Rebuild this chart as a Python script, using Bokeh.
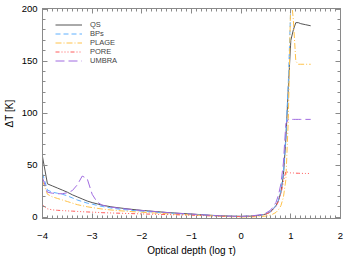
from bokeh.plotting import figure
from bokeh.models import SingleIntervalTicker, LinearAxis, Range1d, Legend, LegendItem
from bokeh.embed import file_html
from bokeh.resources import INLINE

# optical depth (log tau)
log_tau = [-4.0, -3.9, -3.8, -3.7, -3.6, -3.5, -3.4, -3.3, -3.2, -3.1, -3.0,
           -2.9, -2.8, -2.6, -2.4, -2.2, -2.0, -1.75, -1.5, -1.25, -1.0,
           -0.75, -0.5, -0.25, 0.0, 0.2, 0.4, 0.5, 0.6, 0.7, 0.75, 0.8,
           0.85, 0.9, 0.95, 1.0, 1.05, 1.1, 1.15, 1.2, 1.3, 1.4]

qs = [58, 32, 30, 28, 26, 24, 21.5, 19.5, 17.5, 15.5, 14,
      12.8, 11.5, 9.8, 8.6, 7.5, 6.5, 5.5, 4.5, 3.7, 3.0,
      2.2, 1.5, 1.0, 0.8, 1.0, 2.0, 3.0, 5.5, 11, 16, 24,
      40, 75, 125, 170, 180, 187, 187, 186, 185, 184]

bps = [42, 26, 24, 23, 22, 20.5, 18.5, 16.5, 15, 13.5, 12.5,
       11.3, 10.3, 8.6, 7.4, 6.5, 5.7, 4.8, 4.0, 3.3, 2.7,
       2.0, 1.4, 0.9, 0.7, 1.0, 2.0, 3.0, 5.5, 11, 16, 25,
       42, 78, 130, 205, 250, 265, 262, 258, 255, 253]

plage = [35, 22, 19.5, 18, 16.5, 15, 13.5, 12, 11, 10, 9.2,
         8.5, 7.8, 6.8, 6.0, 5.3, 4.7, 4.0, 3.3, 2.7, 2.2,
         1.6, 1.0, 0.5, 0.2, 0.2, 0.6, 1.0, 2.0, 4.5, 7, 11,
         19, 36, 95, 215, 190, 150, 147, 147, 147, 147]

pore = [11.5, 8, 7, 6.6, 6.3, 6.0, 5.8, 5.5, 5.2, 5.0, 4.8,
        4.6, 4.3, 4.0, 3.7, 3.4, 3.1, 2.8, 2.5, 2.2, 1.9,
        1.5, 1.1, 0.7, 0.5, 0.8, 1.8, 2.8, 5, 10, 15, 22,
        34, 44, 43, 42.5, 42.5, 42.3, 42.2, 42.1, 42, 42]

umbra = [38, 24, 23, 22.5, 22.5, 23.5, 25.5, 31, 39.5, 37, 22,
         14.5, 11.5, 9.5, 8.3, 7.3, 6.4, 5.4, 4.4, 3.6, 2.9,
         2.1, 1.4, 0.9, 0.7, 1.1, 2.4, 4, 7, 14, 21, 32,
         52, 90, 94, 94, 94, 94, 94, 94, 94, 94]

series_names = ["QS", "BPs", "PLAGE", "PORE", "UMBRA"]
series_values = [qs, bps, plage, pore, umbra]
colors = ["#555555", "#5fb0ff", "#ffc24a", "#ff5c5c", "#a06be0"]
dashes = ["solid", "5 3", "6 2 1 2", "4 2 1 2 1 2 1 2", "9 4"]

FONT = "Liberation Sans"

p = figure(frame_width=298, frame_height=210, output_backend="svg", toolbar_location=None,
           x_range=Range1d(-4, 2), y_range=Range1d(-1.3, 200.6),
           min_border_left=42, min_border_right=18, min_border_top=8,
           min_border_bottom=30, x_axis_type=None, y_axis_type=None)
p.xgrid.visible = False
p.ygrid.visible = False
p.outline_line_color = "#8a8a8a"
p.background_fill_color = "white"
p.border_fill_color = "white"

AX_COLOR = "#8a8a8a"

def style(ax, labels=True):
    ax.axis_line_color = AX_COLOR
    ax.major_tick_line_color = AX_COLOR
    ax.minor_tick_line_color = AX_COLOR
    ax.major_tick_in = 5
    ax.major_tick_out = 0
    ax.minor_tick_in = 3
    ax.minor_tick_out = 0
    ax.major_label_text_font = FONT
    ax.major_label_text_font_size = "9.5px"
    ax.major_label_text_color = "black"
    ax.axis_label_text_font = FONT
    ax.axis_label_text_font_size = "10px"
    ax.axis_label_text_font_style = "normal"
    ax.axis_label_text_color = "black"
    if not labels:
        ax.major_label_text_color = None
        ax.major_label_text_font_size = "0px"
        ax.major_label_standoff = 0

xb = LinearAxis(ticker=SingleIntervalTicker(interval=1, num_minor_ticks=10),
                axis_label="Optical depth (log \u03c4)")
style(xb)
xb.major_label_standoff = 14
xb.axis_label_standoff = 3
p.add_layout(xb, "below")

xt = LinearAxis(ticker=SingleIntervalTicker(interval=1, num_minor_ticks=10))
style(xt, labels=False)
p.add_layout(xt, "above")

yl = LinearAxis(ticker=SingleIntervalTicker(interval=50, num_minor_ticks=5),
                axis_label="\u0394T [K]")
style(yl)
yl.major_label_standoff = 5
yl.axis_label_standoff = 4
p.add_layout(yl, "left")

yr = LinearAxis(ticker=SingleIntervalTicker(interval=50, num_minor_ticks=5))
style(yr, labels=False)
p.add_layout(yr, "right")

items = []
for name, vals, c, d in zip(series_names, series_values, colors, dashes):
    r = p.line(log_tau, vals, line_color=c, line_dash=d, line_width=1)
    items.append(LegendItem(label=name, renderers=[r]))

legend = Legend(items=items, location=(13, 153), border_line_color=None,
                background_fill_alpha=0, padding=0, margin=0, spacing=0,
                glyph_width=27, glyph_height=7, label_height=7,
                label_standoff=8, label_text_font=FONT,
                label_text_font_size="7.5px", label_text_line_height=1.0)
p.add_layout(legend, "center")

open("out.html", "w").write(file_html(p, INLINE))
